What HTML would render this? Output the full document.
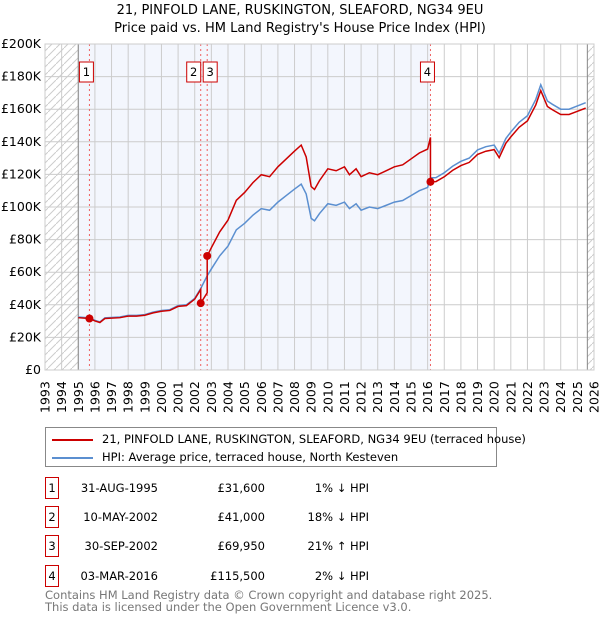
<!DOCTYPE html>
<html><head><meta charset="utf-8"><style>
body{margin:0;background:#fff;font-family:"DejaVu Sans","Liberation Sans",sans-serif;}
#wrap{position:relative;width:600px;height:620px;overflow:hidden}
.t{position:absolute;font-size:12px;color:#000;white-space:nowrap}
</style></head><body><div id="wrap">
<div class="t" style="left:0;width:600px;text-align:center;top:3px;font-size:13px">21, PINFOLD LANE, RUSKINGTON, SLEAFORD, NG34 9EU</div>
<div class="t" style="left:0;width:600px;text-align:center;top:21px;font-size:13px">Price paid vs. HM Land Registry's House Price Index (HPI)</div>
<svg id="chart" width="600" height="420" style="position:absolute;left:0;top:0"></svg>
<div style="position:absolute;left:45px;top:427px;width:452px;height:40px;border:1px solid #888;box-sizing:border-box">
<div style="position:absolute;left:6px;top:4px;font-size:11.5px;white-space:nowrap"><span style="display:inline-block;width:41px;height:2px;background:#cc0000;vertical-align:middle;margin-right:9px"></span>21, PINFOLD LANE, RUSKINGTON, SLEAFORD, NG34 9EU (terraced house)</div>
<div style="position:absolute;left:6px;top:22px;font-size:11.5px;white-space:nowrap"><span style="display:inline-block;width:41px;height:2px;background:#5b8fd0;vertical-align:middle;margin-right:9px"></span>HPI: Average price, terraced house, North Kesteven</div>
</div>
<div id="table"></div>
<div class="t" style="left:45px;top:589px;color:#777;font-size:11.5px;line-height:12px">Contains HM Land Registry data © Crown copyright and database right 2025.<br>This data is licensed under the Open Government Licence v3.0.</div>
</div>
<script>
const hpiYears=[1995.0,1995.67,1996.0,1996.3,1996.6,1997.5,1998.0,1998.5,1999,1999.5,2000,2000.5,2001,2001.5,2002.0,2002.36,2002.75,2003,2003.5,2004,2004.5,2005,2005.5,2006,2006.5,2007,2007.5,2008,2008.4,2008.7,2009.0,2009.2,2009.5,2010,2010.5,2011,2011.3,2011.7,2012,2012.5,2013,2013.5,2014,2014.5,2015,2015.5,2016.0,2016.17,2016.5,2017,2017.5,2018,2018.5,2019,2019.5,2020,2020.3,2020.7,2021,2021.5,2022,2022.5,2022.8,2023.2,2023.5,2024,2024.5,2025,2025.5];
const hpiValues=[32.5,32.0,30.5,29.5,32,32.5,33.5,33.5,34,35.5,36.5,37,39.5,40,44,50,57.8,62,70,76,86,90,95,99,98,103,107,111,114,108,93,91.5,96,102,101,103,99,102,98,100,99,101,103,104,107,110,112,117.9,118,121,125,128,130,135,137,138,133,142,146,152,156,166,175,165,163,160,160,162,164];
const saleLabels=["1","2","3","4"];
const saleYears=[1995.67,2002.36,2002.75,2016.17];
const salePrices=[31.6,41.0,69.95,115.5];
const saleDates=["31-AUG-1995","10-MAY-2002","30-SEP-2002","03-MAR-2016"];
const salePriceText=["£31,600","£41,000","£69,950","£115,500"];
const saleHpiText=["1% ↓ HPI","18% ↓ HPI","21% ↑ HPI","2% ↓ HPI"];
const yTicks=[0,20,40,60,80,100,120,140,160,180,200];
const yTickLabels=["£0","£20K","£40K","£60K","£80K","£100K","£120K","£140K","£160K","£180K","£200K"];
const xTicks=[1993,1994,1995,1996,1997,1998,1999,2000,2001,2002,2003,2004,2005,2006,2007,2008,2009,2010,2011,2012,2013,2014,2015,2016,2017,2018,2019,2020,2021,2022,2023,2024,2025,2026];

const L=45,R=594,T=44,B=370,X0=1993,X1=2026,YMAX=200;
const x=v=>L+(v-X0)/(X1-X0)*(R-L);
const y=v=>B-v/YMAX*(B-T);
const NS="http://www.w3.org/2000/svg";
const svg=document.getElementById('chart');
function mk(t,a,p){const e=document.createElementNS(NS,t);for(const k in a)e.setAttribute(k,a[k]);(p||svg).appendChild(e);return e;}
const defs=mk('defs',{});
const pat=mk('pattern',{id:'hatch',width:8,height:8,patternUnits:'userSpaceOnUse'},defs);
mk('path',{d:'M0,8 L8,0',stroke:'#ccc','stroke-width':1},pat);
let e;
e=mk('rect',{x:L,y:T,width:R-L,height:B-T,fill:'#fff'});

e=mk('rect',{x:x(1995),y:T,width:x(saleYears[3])-x(1995),height:B-T,fill:'#f3f6fd'});

e=mk('rect',{x:L,y:T,width:x(1995)-L,height:B-T,fill:'url(#hatch)'});

e=mk('rect',{x:x(2025.6),y:T,width:R-x(2025.6),height:B-T,fill:'url(#hatch)'});

yTicks.forEach((v,i)=>{
 e=mk('line',{x1:L,x2:R,y1:y(v),y2:y(v),stroke:'#ccc','stroke-width':1});
 
 e=mk('text',{x:L-4,y:y(v)+4,'text-anchor':'end','font-size':12.5,'font-family':'DejaVu Sans,Liberation Sans,sans-serif'});
 e.textContent=yTickLabels[i];
 
});
xTicks.forEach(v=>{
 e=mk('line',{x1:x(v),x2:x(v),y1:T,y2:B,stroke:'#ccc','stroke-width':1});
 
 e=mk('text',{x:0,y:0,transform:`translate(${x(v)+4.5},${B+43}) rotate(-90)`,'font-size':12.5,'font-family':'DejaVu Sans,Liberation Sans,sans-serif'});
 e.textContent=v;
 
});
e=mk('line',{x1:x(1995),x2:x(1995),y1:T,y2:B,stroke:'#888','stroke-width':1});

e=mk('line',{x1:x(2025.6),x2:x(2025.6),y1:T,y2:B,stroke:'#888','stroke-width':1});

saleYears.forEach((v,i)=>{
 e=mk('line',{x1:x(v),x2:x(v),y1:T,y2:B,stroke:'#f06060','stroke-width':1,'stroke-dasharray':'2,3'});
 
});
// HPI line
function hpiAt(t){for(let i=1;i<hpiYears.length;i++){if(t<=hpiYears[i]){const a=hpiYears[i-1],b=hpiYears[i];return hpiValues[i-1]+(hpiValues[i]-hpiValues[i-1])*(t-a)/(b-a);}}return hpiValues[hpiValues.length-1];}
e=mk('polyline',{points:hpiYears.map((t,i)=>x(t)+','+y(hpiValues[i])).join(' '),fill:'none',stroke:'#5b8fd0','stroke-width':1.5});

// property line: HPI scaled by most recent sale
let pts=[];
function ratioAt(t){let r=salePrices[0]/hpiAt(saleYears[0]);for(let i=0;i<saleYears.length;i++)if(t>=saleYears[i])r=salePrices[i]/hpiAt(saleYears[i]);return r;}
const times=hpiYears.concat(saleYears).sort((a,b)=>a-b);
times.forEach(t=>{
 const j=saleYears.indexOf(t);
 if(j>0){const rp=salePrices[j-1]/hpiAt(saleYears[j-1]);pts.push([t,hpiAt(t)*rp]);}
 pts.push([t,hpiAt(t)*ratioAt(t)]);
});
e=mk('polyline',{points:pts.map(p=>x(p[0])+','+y(p[1])).join(' '),fill:'none',stroke:'#cc0000','stroke-width':1.5});

saleYears.forEach((v,i)=>{
 e=mk('circle',{cx:x(v),cy:y(salePrices[i]),r:4,fill:'#cc0000'});
 
 const bx=x(v)-(i==1?16:(i==2?0:9))-(i==2?2:0);
 const g=mk('g',{});
 
 const off=i==0?-10:(i==1?-14:(i==2?-4:-10));
 mk('rect',{x:x(v)+off,y:62,width:14,height:20,fill:'#fff',stroke:'#cc0000','stroke-width':1},g);
 const tx=mk('text',{x:x(v)+off+7,y:76,'text-anchor':'middle','font-size':11.5,'font-family':'DejaVu Sans,sans-serif'},g);
 tx.textContent=saleLabels[i];
});
e=mk('rect',{x:L,y:T,width:R-L,height:B-T,fill:'none',stroke:'#ccc'});

// table
const tbl=document.getElementById('table');
const rowY=[477,506,535,565];
saleLabels.forEach((s,i)=>{
 const r=document.createElement('div');
 
 
 r.style.cssText=`position:absolute;left:0;top:${rowY[i]}px;width:600px;height:22px;font-size:11.5px`;
 r.innerHTML=`<div style="position:absolute;left:45px;top:0;width:12px;height:20px;border:1px solid #cc0000;text-align:center;line-height:20px">${s}</div>`+
 `<div style="position:absolute;left:60px;width:98px;text-align:right;line-height:22px">${saleDates[i]}</div>`+
 `<div style="position:absolute;left:160px;width:105px;text-align:right;line-height:22px">${salePriceText[i]}</div>`+
 `<div style="position:absolute;left:270px;width:99px;text-align:right;line-height:22px">${saleHpiText[i]}</div>`;
 tbl.appendChild(r);
});
</script></body></html>
